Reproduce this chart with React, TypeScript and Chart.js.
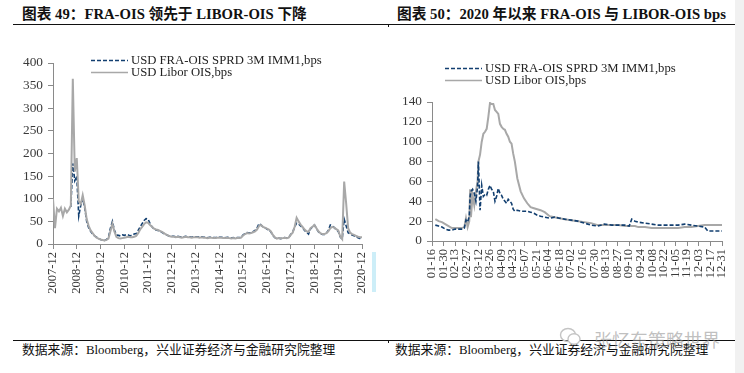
import React, { useEffect, useRef } from "react";
import { Chart, registerables } from "chart.js";

Chart.register(...registerables);

// ---------- Left chart (monthly, 2007-12 .. 2020-12) ----------
const leftTickLabels = [
  "2007-12", "2008-12", "2009-12", "2010-12", "2011-12", "2012-12", "2013-12",
  "2014-12", "2015-12", "2016-12", "2017-12", "2018-12", "2019-12", "2020-12",
];

// USD Libor OIS, bps (one value per month starting 2007-12)
const leftLiborOis = [
  100,
  35, 78, 72, 80, 62, 78, 70, 76, 85, 365, 160, 190,
  95, 88, 108, 85, 55, 40, 30, 24, 18, 14, 12, 10,
  9, 8, 9, 12, 28, 45, 28, 16, 13, 12, 13, 14,
  15, 16, 15, 15, 16, 18, 24, 32, 38, 44, 48, 47,
  42, 38, 34, 32, 31, 29, 27, 24, 21, 19, 17, 16,
  16, 15, 16, 15, 14, 15, 16, 15, 15, 14, 15, 15,
  15, 14, 15, 14, 14, 13, 14, 14, 13, 13, 14, 14,
  14, 13, 13, 14, 13, 12, 13, 12, 13, 13, 14, 19,
  22, 24, 23, 24, 26, 28, 32, 40, 42, 38, 36, 34,
  32, 28, 20, 15, 12, 13, 12, 13, 14, 13, 14, 20,
  25, 38, 58, 50, 43, 38, 32, 28, 27, 35, 38, 42,
  35, 28, 24, 22, 22, 24, 28, 35, 38, 36, 33, 30,
  17, 11, 138, 90, 35, 25, 22, 20, 18, 16, 15, 15,
];

// USD FRA-OIS SPRD 3M IMM1, bps (null = no data)
const leftFraOis = [
  null,
  null, null, null, null, null, null, null, null, 82, 178, 140, 150,
  62, 85, 100, 80, 50, 36, 28, 22, 18, 15, 12, 10,
  9, 8, 10, 14, 35, 50, 30, 20, 19, 18, 20, 19,
  21, 20, 18, 20, 22, 23, 30, 38, 45, 52, 56, 55,
  45, 38, 33, 31, 30, 28, 26, 23, 21, 19, 17, 17,
  17, 16, 17, 16, 15, 16, 17, 16, 16, 15, 16, 16,
  16, 15, 16, 15, 15, 14, 15, 15, 14, 14, 15, 15,
  15, 14, 14, 15, 14, 13, 14, 13, 14, 14, 15, 20,
  23, 25, 24, 25, 27, 30, 35, 45, 42, 38, 36, 33,
  31, 27, 19, 14, 12, 13, 12, 13, 14, 13, 14, 21,
  26, 38, 46, 44, 40, 36, 30, 26, 22, 33, 38, 42,
  34, 27, 23, 21, 21, 24, 30, 42, 40, 36, 32, 28,
  16, 11, 55, 40, 25, 22, 20, 18, 16, 14, 12, 10,
];

// ---------- Right chart (2020, days counted from 01-16) ----------
const rightTickLabels = [
  "01-16", "01-30", "02-13", "02-27", "03-12", "03-26", "04-09", "04-23", "05-07",
  "05-21", "06-04", "06-18", "07-02", "07-16", "07-30", "08-13", "08-27", "09-10",
  "09-24", "10-08", "10-22", "11-05", "11-19", "12-03", "12-17", "12-31",
];

const rightDays = [
  4, 8, 12, 16, 20, 24, 28, 32, 36, 39, 41, 43, 45, 46, 47, 49, 51, 53, 55, 56,
  58, 60, 62, 64, 66, 68, 70, 72, 74, 76, 78, 80, 82, 84, 86, 88, 90, 92, 94, 96,
  98, 100, 103, 107, 111, 115, 119, 123, 127, 131, 136, 142, 148, 154, 160, 168,
  176, 184, 192, 200, 208, 217, 225, 233, 238, 241, 245, 249, 257, 265, 273, 281,
  289, 297, 305, 313, 321, 329, 333, 340, 350,
];

const rightLiborOis = [
  22, 20, 19, 17, 15, 13, 13, 13, 13, 14, 23, 14, 20, 52, 24, 46, 36, 50, 60, 80,
  87, 100, 108, 110, 113, 125, 139, 138, 138, 132, 130, 128, 118, 115, 113, 112, 108, 105, 100, 98,
  88, 80, 63, 50, 43, 38, 34, 33, 32, 31, 29, 25, 24, 23, 22, 21,
  20, 19, 18, 16, 16, 16, 16, 15, 15, 15, 15, 14, 14, 13, 13, 13,
  13, 13, 14, 14, 15, 16, 16, 16, 16,
];

const rightFraOis = [
  16, 15, 14, 12, 11, 11, 12, 12, 12, 13, 21, 19, 25, 45, 50, 52, 48, 40, 55, 80,
  31, 56, 45, 47, 46, 52, 56, 52, 50, 40, 45, 53, 48, 46, 42, 40, 38, 42, 40, 38,
  32, 30, 31, 30, 30, 30, 29, 28, 26, 25, 24, 23, 24, 23, 22, 21,
  20, 18, 16, 15, 17, 16, 16, 16, 15, 22, 20, 19, 18, 17, 16, 16,
  16, 16, 17, 16, 15, 14, 10, 10, 10,
];

const FRA_NAME = "USD FRA-OIS SPRD 3M IMM1,bps";
const LIBOR_NAME = "USD Libor OIS,bps";

const BLUE = "#123f70";
const GRAY = "#a8a8a8";
const AXIS = "#8a8a8a";
const TICK_TEXT = "#3a3a3a";
const SERIF = '"Liberation Serif", "Times New Roman", serif';
const CJK = '"Liberation Serif", "Noto Sans CJK SC", serif';

type Pt = { x: number; y: number };

function toPoints(xs: number[], ys: (number | null)[]): Pt[] {
  const out: Pt[] = [];
  ys.forEach((y, i) => {
    if (y !== null && y !== undefined) out.push({ x: xs[i], y });
  });
  return out;
}

function makeConfig(opts: {
  xs: number[];
  fra: (number | null)[];
  libor: (number | null)[];
  tickLabels: string[];
  xStep: number;
  yMax: number;
  yStep: number;
  yWidth: number;
  xHeight: number;
  padTop: number;
  padRight: number;
  grayOnTop: boolean;
}): any {
  const xMax = (opts.tickLabels.length - 1) * opts.xStep;
  return {
    type: "line",
    data: {
      datasets: [
        {
          label: FRA_NAME,
          data: toPoints(opts.xs, opts.fra),
          borderColor: BLUE,
          borderWidth: 1.6,
          borderDash: [4, 2],
          pointRadius: 0,
          tension: 0,
          fill: false,
          order: opts.grayOnTop ? 1 : 0,
        },
        {
          label: LIBOR_NAME,
          data: toPoints(opts.xs, opts.libor),
          borderColor: GRAY,
          borderWidth: 2,
          pointRadius: 0,
          tension: 0,
          fill: false,
          order: opts.grayOnTop ? 0 : 1,
        },
      ],
    },
    options: {
      animation: false,
      responsive: false,
      maintainAspectRatio: false,
      events: [],
      layout: { padding: { top: opts.padTop, right: opts.padRight, left: 0, bottom: 0 } },
      plugins: { legend: { display: false }, tooltip: { enabled: false }, title: { display: false } },
      scales: {
        x: {
          type: "linear",
          min: 0,
          max: xMax,
          afterFit: (s: any) => {
            s.height = opts.xHeight;
          },
          ticks: {
            stepSize: opts.xStep,
            autoSkip: false,
            minRotation: 90,
            maxRotation: 90,
            padding: 3,
            color: TICK_TEXT,
            font: { family: SERIF, size: 12.5 },
            callback: (v: number) => opts.tickLabels[Math.round(v / opts.xStep)] ?? "",
          },
          grid: { display: true, drawOnChartArea: false, drawTicks: true, tickLength: 5, color: AXIS },
          border: { display: true, color: AXIS, width: 1 },
        },
        y: {
          type: "linear",
          min: 0,
          max: opts.yMax,
          afterFit: (s: any) => {
            s.width = opts.yWidth;
          },
          ticks: {
            stepSize: opts.yStep,
            padding: 5,
            color: TICK_TEXT,
            font: { family: SERIF, size: 13.3 },
          },
          grid: { display: true, drawOnChartArea: false, drawTicks: true, tickLength: 5, color: AXIS },
          border: { display: true, color: AXIS, width: 1 },
        },
      },
    },
  };
}

function ChartCanvas({ config, left, top, width, height }: any) {
  const ref = useRef<HTMLCanvasElement>(null);
  useEffect(() => {
    const chart = new Chart(ref.current as HTMLCanvasElement, config);
    return () => chart.destroy();
  }, []);
  return (
    <canvas
      ref={ref}
      width={width}
      height={height}
      style={{ position: "absolute", left, top, width, height }}
    />
  );
}

function Legend({ left, top, gap }: { left: number; top: number; gap: number }) {
  const row = (dashed: boolean, text: string, y: number) => (
    <div style={{ position: "absolute", left, top: y, height: 13, whiteSpace: "nowrap" }}>
      <svg width={40} height={13} style={{ position: "absolute", left: 0, top: 0 }}>
        <line
          x1={0}
          y1={6.5}
          x2={37}
          y2={6.5}
          stroke={dashed ? BLUE : GRAY}
          strokeWidth={1.3}
          strokeDasharray={dashed ? "4 2" : undefined}
        />
      </svg>
      <span
        style={{
          position: "absolute",
          left: 40,
          top: 0,
          fontFamily: SERIF,
          fontSize: 12.7,
          lineHeight: "13px",
          color: "#222",
        }}
      >
        {text}
      </span>
    </div>
  );
  return (
    <>
      {row(true, FRA_NAME, top)}
      {row(false, LIBOR_NAME, top + gap)}
    </>
  );
}

export default function App() {
  const leftXs = leftLiborOis.map((_, i) => i);
  const leftConfig = makeConfig({
    xs: leftXs,
    fra: leftFraOis,
    libor: leftLiborOis,
    tickLabels: leftTickLabels,
    xStep: 12,
    yMax: 400,
    yStep: 50,
    yWidth: 53,
    xHeight: 320 - 244,
    padTop: 63,
    padRight: 380 - 369,
    grayOnTop: true,
  });
  const rightConfig = makeConfig({
    xs: rightDays,
    fra: rightFraOis,
    libor: rightLiborOis,
    tickLabels: rightTickLabels,
    xStep: 14,
    yMax: 140,
    yStep: 20,
    yWidth: 52,
    xHeight: 320 - 241,
    padTop: 102,
    padRight: 364 - 342,
    grayOnTop: false,
  });

  const titleStyle: React.CSSProperties = {
    position: "absolute",
    top: 5,
    fontFamily: CJK,
    fontWeight: "bold",
    fontSize: 14.7,
    lineHeight: "18px",
    color: "#111",
    whiteSpace: "nowrap",
  };
  const sourceStyle: React.CSSProperties = {
    position: "absolute",
    top: 342,
    fontFamily: CJK,
    fontSize: 12.8,
    lineHeight: "16px",
    color: "#111",
    whiteSpace: "nowrap",
  };

  return (
    <div
      style={{
        position: "absolute",
        left: 0,
        top: 0,
        width: 744,
        height: 373,
        background: "#fff",
        overflow: "hidden",
      }}
    >
      <div style={{ position: "absolute", left: 735, top: 0, width: 9, height: 373, background: "#f1f1f1" }} />
      <div style={{ ...titleStyle, left: 22 }}>图表 49：FRA-OIS 领先于 LIBOR-OIS 下降</div>
      <div style={{ ...titleStyle, left: 397 }}>图表 50：2020 年以来 FRA-OIS 与 LIBOR-OIS bps</div>
      <div style={{ position: "absolute", left: 13, top: 23.5, width: 722, height: 1.5, background: "#111" }} />
      <div style={{ position: "absolute", left: 388, top: 24, width: 1, height: 3, background: "#111" }} />

      <ChartCanvas config={leftConfig} left={0} top={0} width={380} height={320} />
      <ChartCanvas config={rightConfig} left={380} top={0} width={364} height={320} />

      <Legend left={91} top={53.5} gap={12.7} />
      <Legend left={445} top={62} gap={11.7} />

      <div style={{ position: "absolute", left: 372, top: 252, width: 4, height: 40, background: "#cdeef8" }} />

      <div style={{ position: "absolute", left: 13, top: 339.5, width: 722, height: 1.5, background: "#111" }} />
      <div style={{ position: "absolute", left: 388, top: 340, width: 1, height: 3, background: "#111" }} />
      <div style={{ ...sourceStyle, left: 22 }}>数据来源：Bloomberg，兴业证券经济与金融研究院整理</div>
      <div style={{ ...sourceStyle, left: 395 }}>数据来源：Bloomberg，兴业证券经济与金融研究院整理</div>

      <svg width={24} height={22} style={{ position: "absolute", left: 559, top: 326 }}>
        <ellipse cx={9} cy={9} rx={7.5} ry={6.5} fill="none" stroke="#c4c4c4" strokeWidth={1.4} />
        <ellipse cx={15} cy={13} rx={6} ry={5.2} fill="#fff" stroke="#c4c4c4" strokeWidth={1.4} />
      </svg>
      <div
        style={{
          position: "absolute",
          left: 594,
          top: 328,
          fontFamily: '"Noto Sans CJK SC", sans-serif',
          fontSize: 18,
          lineHeight: "22px",
          color: "rgba(150,150,150,0.6)",
          whiteSpace: "nowrap",
          letterSpacing: 0,
        }}
      >
        张忆东策略世界
      </div>
    </div>
  );
}
